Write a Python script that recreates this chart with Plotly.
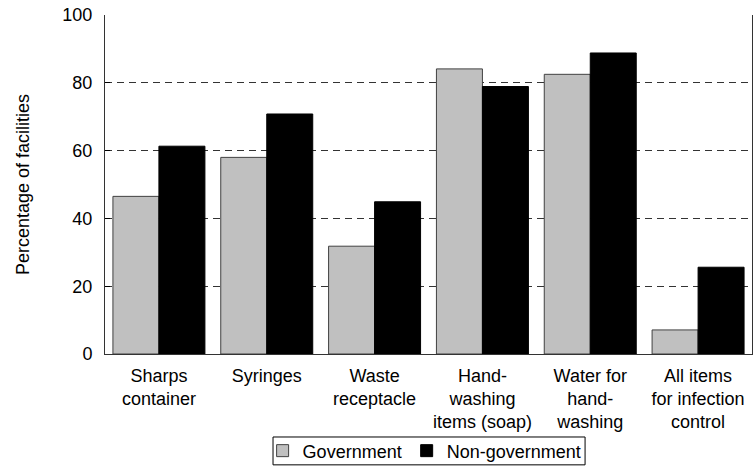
import plotly.graph_objects as go

categories = ["Sharps<br>container", "Syringes", "Waste<br>receptacle",
              "Hand-<br>washing<br>items (soap)", "Water for<br>hand-<br>washing",
              "All items<br>for infection<br>control"]
government = [46.5, 58.0, 31.8, 84.1, 82.5, 7.1]
non_government = [61.3, 70.8, 44.9, 78.9, 88.8, 25.6]
y_ticks = [0, 20, 40, 60, 80, 100]

FONT = "Liberation Sans, Arial, sans-serif"

fig = go.Figure()
fig.add_trace(go.Bar(x=categories, y=government, name="Government",
                     marker=dict(color="#C0C0C0", line=dict(color="#404040", width=1))))
fig.add_trace(go.Bar(x=categories, y=non_government, name="Non-government",
                     marker=dict(color="#000000", line=dict(color="#000000", width=1))))

fig.update_layout(
    width=753, height=466,
    margin=dict(l=105, r=1, t=15, b=112, autoexpand=False),
    paper_bgcolor="white", plot_bgcolor="white",
    font=dict(family=FONT, size=18, color="black"),
    barmode="group", bargap=0.147, bargroupgap=0,
    showlegend=True,
    legend=dict(orientation="h", x=0.494, xanchor="center", y=-0.286, yanchor="middle",
                borderwidth=0, bgcolor="rgba(0,0,0,0)", font=dict(size=18),
                itemwidth=30, tracegroupgap=0, traceorder="normal"),
    shapes=[dict(type="rect", xref="paper", yref="paper",
                 x0=0.2597, x1=0.742, y0=-0.327, y1=-0.2448,
                 line=dict(color="black", width=1), fillcolor="rgba(0,0,0,0)",
                 layer="above")],
)
fig.update_xaxes(showline=True, linecolor="#333333", linewidth=1, ticks="",
                 tickfont=dict(size=18), showgrid=False, automargin=False,
                 ticklabelstandoff=5)
fig.update_yaxes(range=[0, 100], tickvals=y_ticks, showline=True, linecolor="#333333",
                 linewidth=1, mirror=True, ticks="inside", ticklen=5, tickcolor="black",
                 showgrid=True, gridcolor="#333333", gridwidth=1, griddash="7px,5px",
                 zeroline=False, tickfont=dict(size=18), ticklabelstandoff=8,
                 automargin=False,
                 title=dict(text="Percentage of facilities", font=dict(size=18), standoff=28))

fig.write_html("out.html", post_script="document.body.style.margin='0';",
               config={"displayModeBar": False})
